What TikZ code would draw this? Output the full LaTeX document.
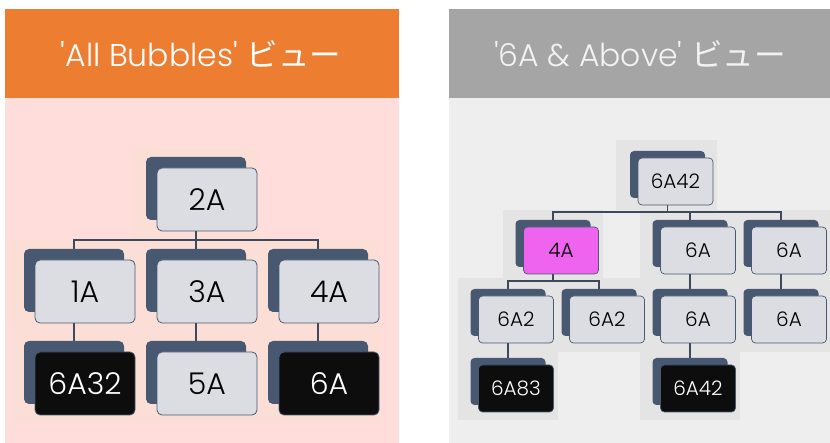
\documentclass[tikz,border=0pt]{standalone}
\usepackage{fontspec}
\setmainfont{Poppins}[UprightFont={* Light}]
\newfontfamily\jpfont{Noto Sans CJK JP}
\usetikzlibrary{positioning,calc,shadows}
\definecolor{hdorange}{RGB}{237,125,49}
\definecolor{bdpink}{RGB}{255,221,218}
\definecolor{tilepink}{RGB}{251,223,215}
\definecolor{hdgray}{RGB}{165,165,165}
\definecolor{bdgray}{RGB}{238,238,238}
\definecolor{tilegray}{RGB}{228,228,228}
\definecolor{slate}{RGB}{72,88,112}
\definecolor{boxfill}{RGB}{220,221,226}
\definecolor{magbox}{RGB}{238,100,238}
\definecolor{linkcol}{RGB}{62,74,92}
\pgfdeclarelayer{background}
\pgfdeclarelayer{lines}
\pgfsetlayers{background,lines,main}
\tikzset{
  lbubble/.style={draw=slate,line width=0.8pt,fill=boxfill,rounded corners=5pt,
    minimum width=100pt,minimum height=63pt,inner sep=0pt,outer sep=0pt,
    font=\fontsize{30}{32}\selectfont,
    copy shadow={shadow xshift=-11pt,shadow yshift=11pt,fill=slate,draw=none}},
  rbubble/.style={draw=slate,line width=0.7pt,fill=boxfill,rounded corners=4pt,
    minimum width=75pt,minimum height=47pt,inner sep=0pt,outer sep=0pt,
    font=\fontsize{20}{22}\selectfont,
    copy shadow={shadow xshift=-8pt,shadow yshift=7pt,fill=slate,draw=none}},
  dark/.style={fill=black!95,text=white},
  pink/.style={fill=magbox},
  link/.style={draw=linkcol,line width=1.8pt},
  tile/.style={draw=none},
  header/.style={font=\fontsize{31.5}{33}\selectfont}
}
\begin{document}
\begin{tikzpicture}[x=1pt,y=1pt]
  \useasboundingbox (0,0) rectangle (830,-443);
  % panels
  \begin{pgfonlayer}{background}
    \fill[hdorange] (5,-9) rectangle (399,-98);
    \fill[bdpink] (5,-98) rectangle (399,-443);
    \fill[hdgray] (449,-9) rectangle (830,-98);
    \fill[bdgray] (449,-98) rectangle (830,-443);
    \fill[tile,tilepink] (132,-147) rectangle (258,-240);
    \fill[tile,tilepink] (10,-240) rectangle (380,-330);
    \fill[tile,tilepink] (12,-332) rectangle (380,-422);
    \fill[tile,tilegray] (616,-140) rectangle (717,-210);
    \fill[tile,tilegray] (503,-210) rectangle (603,-278);
    \fill[tile,tilegray] (640,-210) rectangle (830,-352);
    \fill[tile,tilegray] (458,-278) rectangle (640,-352);
    \fill[tile,tilegray] (458,-352) rectangle (558,-420);
    \fill[tile,tilegray] (640,-352) rectangle (740,-420);
  \end{pgfonlayer}
  \node[header,text=white] (hdL) at (201,-54) {\textquotesingle All Bubbles\textquotesingle{} {\jpfont ビュー}};
  \node[header,text=white!95!black] (hdR) at (640,-54) {\textquotesingle 6A \& Above\textquotesingle{} {\jpfont ビュー}};
  % all bubbles
  \begin{scope}[node distance=29pt and 22pt]
    \node[lbubble] (n2A) at (207,-199.5) {2A};
    \node[lbubble,below=of n2A] (n3A) {3A};
    \node[lbubble,left=of n3A] (n1A) {1A};
    \node[lbubble,right=of n3A] (n4A) {4A};
    \node[lbubble,dark,below=of n1A] (n6A32) {6A32};
    \node[lbubble,below=of n3A] (n5A) {5A};
    \node[lbubble,dark,below=of n4A] (n6A) {6A};
    \begin{pgfonlayer}{lines}
      \draw[link] ([xshift=-11pt]n2A.south) -- ++(0,-9pt) coordinate (busL);
      \draw[link] ([xshift=-11pt]n1A.north) |- (busL) -| ([xshift=-11pt]n4A.north);
      \draw[link] (busL) -- ([xshift=-11pt]n3A.north);
      \draw[link] ([xshift=-11pt]n1A.south) -- ([xshift=-11pt]n6A32.north);
      \draw[link] ([xshift=-11pt]n3A.south) -- ([xshift=-11pt]n5A.north);
      \draw[link] ([xshift=-11pt]n4A.south) -- ([xshift=-11pt]n6A.north);
    \end{pgfonlayer}
  \end{scope}
  % 6A and above
  \begin{scope}[node distance=22pt and 16pt]
    \node[rbubble] (r6A42) at (675.5,-181.5) {6A42};
    \node[rbubble,below=of r6A42,xshift=22.5pt] (r6Aa) {6A};
    \node[rbubble,right=of r6Aa] (r6Ab) {6A};
    \node[rbubble,pink,left=62pt of r6Aa] (r4A) {4A};
    \node[rbubble,below=of r6Aa] (r6Ac) {6A};
    \node[rbubble,right=of r6Ac] (r6Ad) {6A};
    \node[rbubble,left=of r6Ac] (r6A2b) {6A2};
    \node[rbubble,left=of r6A2b] (r6A2a) {6A2};
    \node[rbubble,dark,below=of r6A2a] (r6A83) {6A83};
    \node[rbubble,dark,below=of r6Ac] (r6A42b) {6A42};
    \begin{pgfonlayer}{lines}
      \draw[link] ([xshift=-8pt]r6A42.south) -- ++(0,-7pt) coordinate (busR);
      \draw[link] ([xshift=-8pt]r4A.north) |- (busR) -| ([xshift=-8pt]r6Ab.north);
      \draw[link] ([xshift=-8pt]r6Aa.north) -- ([xshift=-8pt]r6Aa.north |- busR);
      \draw[link] ([xshift=-8pt]r4A.south) -- ++(0,-7pt) coordinate (bus4A);
      \draw[link] ([xshift=-8pt]r6A2a.north) |- (bus4A) -| ([xshift=-8pt]r6A2b.north);
      \draw[link] ([xshift=-8pt]r6Aa.south) -- ([xshift=-8pt]r6Ac.north);
      \draw[link] ([xshift=-8pt]r6Ab.south) -- ([xshift=-8pt]r6Ad.north);
      \draw[link] ([xshift=-8pt]r6A2a.south) -- ([xshift=-8pt]r6A83.north);
      \draw[link] ([xshift=-8pt]r6Ac.south) -- ([xshift=-8pt]r6A42b.north);
    \end{pgfonlayer}
  \end{scope}
\end{tikzpicture}
\end{document}
